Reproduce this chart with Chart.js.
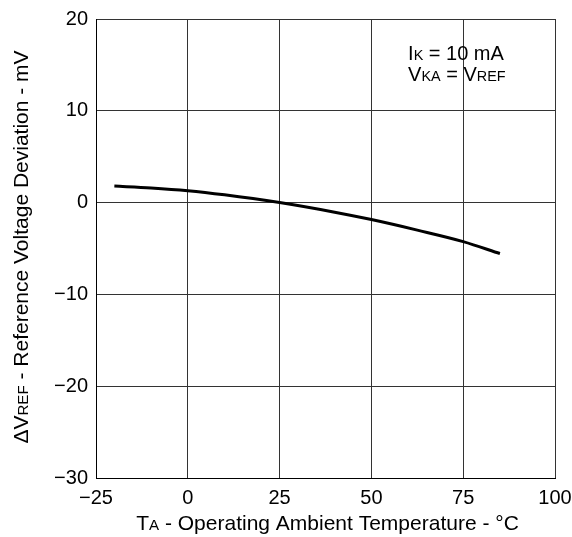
<!DOCTYPE html>
<html>
<head>
<meta charset="utf-8">
<script src="https://cdn.jsdelivr.net/npm/chart.js@4/dist/chart.umd.min.js"></script>
<style>
  html, body { margin: 0; padding: 0; background: #fff; }
  #wrap { width: 572px; height: 537px; }
</style>
</head>
<body>
<div id="wrap"><canvas id="c" width="572" height="537"></canvas></div>
<script>
// data
const temps = [-20, -10, 0, 10, 25, 40, 50, 62.5, 75, 85];
const deviation = [1.8, 1.6, 1.3, 0.85, 0, -1.05, -1.85, -3.0, -4.25, -5.55];
const xTicks = [-25, 0, 25, 50, 75, 100];
const yTicks = [-30, -20, -10, 0, 10, 20];

const FONT = '"Liberation Sans", Arial, sans-serif';

// draws a line of text where some parts are smaller (the subscript look of the original)
const drawParts = function (ctx, parts, x, y, size, align) {
    let total = 0;
    parts.forEach(p => {
        ctx.font = `${p[1] ? size * 0.72 : size}px ${FONT}`;
        total += ctx.measureText(p[0]).width;
    });
    let cx = align === 'center' ? x - total / 2 : x;
    parts.forEach(p => {
        ctx.font = `${p[1] ? size * 0.72 : size}px ${FONT}`;
        ctx.fillText(p[0], cx, y);
        cx += ctx.measureText(p[0]).width;
    });
};

const labelsPlugin = {
    id: 'labels',
    afterDraw(chart) {
        const ctx = chart.ctx;
        const area = chart.chartArea;
        const xs = chart.scales.x, ys = chart.scales.y;
        ctx.save();
        ctx.fillStyle = '#000';
        ctx.textBaseline = 'alphabetic';
        ctx.textAlign = 'left';

        // x axis title
        drawParts(ctx, [['T'], ['A', true], [' - Operating Ambient Temperature - °C']],
            (area.left + area.right) / 2 + 2, 530, 21, 'center');

        // y axis title
        ctx.save();
        ctx.translate(28, 247);
        ctx.rotate(-Math.PI / 2);
        drawParts(ctx, [['ΔV'], ['REF', true], [' - Reference Voltage Deviation - mV']],
            0, 0, 21, 'center');
        ctx.restore();

        // conditions text
        const tx = xs.getPixelForValue(60);
        drawParts(ctx, [['I'], ['K', true], [' = 10 mA']], tx, ys.getPixelForValue(15.55), 20, 'left');
        drawParts(ctx, [['V'], ['KA', true], [' = V'], ['REF', true]], tx, ys.getPixelForValue(13.2), 20, 'left');
        ctx.restore();
    }
};

new Chart(document.getElementById('c'), {
    type: 'line',
    data: {
        datasets: [{
            data: temps.map((t, i) => ({ x: t, y: deviation[i] })),
            borderColor: '#000',
            borderWidth: 3,
            pointRadius: 0,
            fill: false,
            cubicInterpolationMode: 'monotone'
        }]
    },
    options: {
        responsive: false,
        animation: false,
        events: [],
        layout: { padding: { top: 19, right: 17, left: 0, bottom: 0 } },
        plugins: { legend: { display: false }, tooltip: { enabled: false } },
        scales: {
            x: {
                type: 'linear',
                min: -25, max: 100,
                afterBuildTicks: (s) => { s.ticks = xTicks.map(v => ({ value: v })); },
                afterFit: (s) => { s.height = 59; s.paddingRight = 0; s.paddingLeft = 0; },
                grid: { color: '#333', lineWidth: 1, drawTicks: false },
                border: { color: '#000', width: 1 },
                ticks: {
                    padding: 8,
                    color: '#000',
                    font: { family: FONT, size: 20 },
                    callback: (v) => String(v).replace('-', '\u2212')
                }
            },
            y: {
                min: -30, max: 20,
                afterBuildTicks: (s) => { s.ticks = yTicks.map(v => ({ value: v })); },
                afterFit: (s) => { s.width = 96; s.paddingTop = 0; s.paddingBottom = 0; },
                grid: { color: '#333', lineWidth: 1, drawTicks: false },
                border: { color: '#000', width: 1 },
                ticks: {
                    padding: 8,
                    color: '#000',
                    font: { family: FONT, size: 20 },
                    callback: (v) => String(v).replace('-', '\u2212')
                }
            }
        }
    },
    plugins: [labelsPlugin]
});
</script>
</body>
</html>
